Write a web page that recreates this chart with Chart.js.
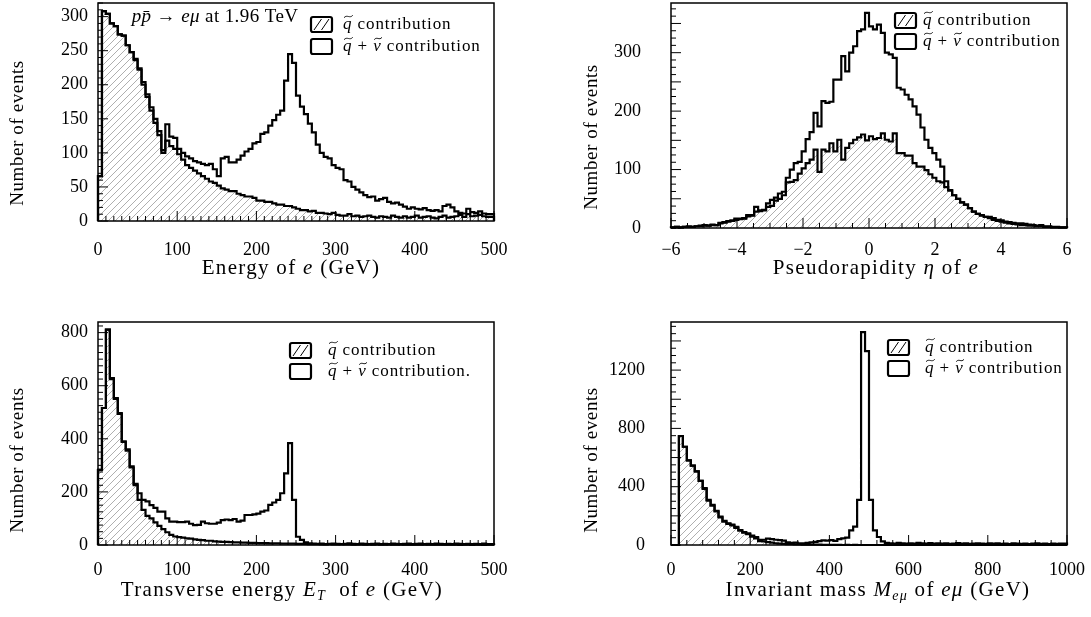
<!DOCTYPE html>
<html>
<head>
<meta charset="utf-8">
<title>e mu events</title>
<script src="https://cdn.jsdelivr.net/npm/chart.js@4.4.1/dist/chart.umd.min.js"></script>
<style>
  body { margin: 0; background: #fff; }
  canvas { position: absolute; }
</style>
</head>
<body>
<canvas id="energy" width="545" height="300" style="left:0;top:0"></canvas>
<canvas id="eta" width="546" height="300" style="left:545px;top:0"></canvas>
<canvas id="et" width="545" height="317" style="left:0;top:300px"></canvas>
<canvas id="mass" width="546" height="317" style="left:545px;top:300px"></canvas>
<script>
// events per bin (100 equal bins per histogram)
const energyRange = [0, 500];
const energyXLabels = [0, 100, 200, 300, 400, 500];
const energyYLabels = [0, 50, 100, 150, 200, 250, 300];
const energyTotal = [
  64, 66, 308, 304, 290, 286, 274, 272, 258, 248,
  238, 224, 204, 186, 167, 150, 132, 104, 142, 124,
  122, 106, 100, 95, 92, 88, 86, 84, 82, 84,
  76, 66, 92, 94, 86, 86, 90, 96, 102, 106,
  114, 116, 128, 130, 140, 148, 156, 162, 206, 245,
  232, 184, 168, 157, 143, 130, 112, 100, 94, 92,
  82, 78, 76, 60, 58, 50, 46, 42, 38, 35,
  36, 30, 32, 34, 28, 26, 27, 24, 21, 18,
  20, 18, 17, 19, 16, 15, 16, 14, 22, 24,
  20, 14, 12, 11, 18, 13, 12, 14, 11, 10];
const energySquark = [
  64, 66, 308, 304, 290, 286, 274, 272, 258, 248,
  236, 222, 200, 182, 162, 144, 126, 100, 118, 110,
  106, 98, 90, 82, 78, 74, 70, 66, 62, 58,
  56, 52, 48, 46, 44, 44, 40, 38, 36, 36,
  34, 30, 30, 28, 28, 26, 24, 24, 22, 22,
  20, 18, 16, 16, 14, 15, 12, 12, 11, 10,
  12, 9, 8, 8, 10, 7, 8, 6, 7, 8,
  6, 5, 7, 6, 5, 8, 6, 5, 7, 5,
  6, 8, 5, 6, 7, 5, 4, 6, 8, 5,
  6, 7, 9, 6, 10, 7, 8, 9, 7, 6];

const etaRange = [-6, 6];
const etaXLabels = [-6, -4, -2, 0, 2, 4, 6];
const etaYLabels = [0, 100, 200, 300];
const etaTotal = [
  1, 1, 2, 1, 2, 3, 2, 3, 4, 5,
  4, 6, 5, 9, 10, 12, 13, 16, 16, 17,
  22, 22, 36, 30, 31, 42, 48, 52, 59, 62,
  86, 100, 111, 113, 131, 152, 164, 197, 174, 217,
  214, 216, 254, 254, 294, 268, 300, 311, 337, 340,
  368, 345, 340, 348, 334, 300, 297, 291, 240, 237,
  228, 220, 208, 194, 172, 151, 137, 128, 117, 105,
  80, 65, 56, 50, 44, 40, 34, 28, 24, 22,
  19, 19, 17, 14, 13, 11, 10, 9, 8, 8,
  7, 6, 5, 4, 5, 3, 3, 2, 2, 1];
const etaSquark = [
  1, 1, 2, 1, 2, 2, 2, 3, 3, 4,
  4, 5, 5, 8, 9, 11, 12, 14, 15, 16,
  20, 21, 28, 29, 30, 36, 38, 47, 50, 56,
  78, 79, 82, 93, 102, 111, 117, 134, 96, 134,
  131, 145, 131, 151, 117, 137, 145, 151, 155, 160,
  150, 157, 152, 154, 162, 151, 148, 162, 128, 128,
  124, 124, 111, 105, 105, 99, 92, 86, 80, 78,
  70, 64, 56, 50, 44, 40, 34, 28, 24, 21,
  19, 17, 14, 12, 11, 9, 8, 7, 6, 5,
  5, 4, 4, 3, 3, 2, 2, 1, 1, 1];

const etRange = [0, 500];
const etXLabels = [0, 100, 200, 300, 400, 500];
const etYLabels = [0, 200, 400, 600, 800];
const etTotal = [
  94, 283, 516, 811, 629, 553, 497, 390, 360, 296,
  230, 195, 170, 164, 150, 140, 126, 126, 100, 88,
  88, 86, 86, 88, 80, 75, 76, 88, 82, 80,
  80, 84, 94, 96, 94, 98, 88, 92, 113, 113,
  115, 118, 126, 130, 151, 160, 170, 195, 270, 384,
  170, 31, 19, 10, 6, 5, 4, 5, 3, 4,
  5, 4, 3, 4, 6, 4, 3, 5, 4, 3,
  4, 5, 3, 4, 3, 5, 4, 3, 4, 5,
  3, 4, 5, 3, 4, 3, 5, 4, 3, 4,
  3, 5, 4, 3, 4, 3, 4, 3, 5, 3];
const etSquark = [
  94, 283, 516, 811, 625, 550, 494, 388, 355, 292,
  225, 170, 132, 110, 100, 85, 72, 60, 48, 38,
  32, 30, 28, 25, 24, 21, 19, 18, 16, 16,
  14, 13, 12, 12, 11, 10, 10, 9, 9, 8,
  8, 7, 7, 7, 6, 6, 6, 5, 5, 5,
  5, 4, 4, 4, 3, 3, 3, 2, 2, 3,
  2, 2, 3, 2, 2, 1, 2, 2, 1, 2,
  1, 2, 1, 1, 2, 1, 1, 2, 1, 1,
  1, 1, 1, 2, 1, 1, 1, 1, 1, 1,
  1, 1, 0, 1, 1, 0, 1, 1, 0, 1];

const massRange = [0, 1000];
const massXLabels = [0, 200, 400, 600, 800, 1000];
const massYLabels = [0, 400, 800, 1200];
const massTotal = [
  0, 0, 0, 748, 674, 580, 545, 505, 440, 390,
  309, 275, 235, 195, 165, 149, 140, 125, 103, 88,
  80, 65, 55, 36, 36, 44, 40, 36, 34, 30,
  18, 14, 16, 12, 12, 14, 18, 22, 26, 32,
  30, 34, 28, 40, 46, 50, 100, 126, 309, 1460,
  1330, 310, 100, 55, 25, 15, 12, 10, 14, 11,
  9, 12, 10, 14, 11, 9, 13, 10, 12, 9,
  11, 8, 10, 13, 9, 11, 8, 10, 12, 9,
  8, 11, 9, 12, 8, 10, 7, 11, 9, 8,
  10, 7, 9, 11, 8, 9, 7, 10, 8, 9];
const massSquark = [
  0, 0, 0, 748, 674, 580, 545, 505, 440, 385,
  305, 270, 230, 190, 160, 145, 135, 118, 98, 84,
  74, 58, 46, 26, 24, 20, 16, 12, 10, 8,
  6, 5, 4, 4, 3, 3, 2, 2, 2, 1,
  1, 1, 1, 1, 0, 1, 0, 1, 0, 0,
  0, 0, 0, 0, 0, 0, 0, 0, 0, 0,
  0, 0, 0, 0, 0, 0, 0, 0, 0, 0,
  0, 0, 0, 0, 0, 0, 0, 0, 0, 0,
  0, 0, 0, 0, 0, 0, 0, 0, 0, 0,
  0, 0, 0, 0, 0, 0, 0, 0, 0, 0];

const SERIF = "'Liberation Serif', serif";
Chart.defaults.font.family = SERIF;
Chart.defaults.color = '#000';

const squarkParts = [{ t: 'q', i: 1, tilde: 1 }, { t: ' contribution' }];
const totalParts = [{ t: 'q', i: 1, tilde: 1 }, { t: ' + ' }, { t: '\u03bd', i: 1, tilde: 1 }, { t: ' contribution' }];

// step outline of a histogram: rises from 0 at the first edge, drops to 0 at the last
function histPoints(range, values) {
  const w = (range[1] - range[0]) / values.length;
  const pts = [{ x: range[0], y: 0 }];
  values.forEach((v, i) => pts.push({ x: range[0] + i * w, y: v }));
  pts.push({ x: range[1], y: values[values.length - 1] });
  pts.push({ x: range[1], y: 0 });
  return pts;
}

function hatch(ctx) {
  const c = document.createElement('canvas');
  c.width = c.height = 7;
  const g = c.getContext('2d');
  g.strokeStyle = '#a6a6a6';
  g.lineWidth = 0.9;
  g.beginPath();
  g.moveTo(0, 7); g.lineTo(7, 0);
  g.moveTo(-1, 1); g.lineTo(1, -1);
  g.moveTo(6, 8); g.lineTo(8, 6);
  g.stroke();
  return ctx.createPattern(c, 'repeat');
}

// text made of roman / italic / subscript / wide-tilde pieces
function richText(ctx, parts, px, cy, size, spacing, align) {
  const font = p => (p.i ? 'italic ' : '') + Math.round(p.sub ? size * 0.68 : size) + 'px ' + SERIF;
  ctx.letterSpacing = spacing + 'px';
  let w = 0;
  parts.forEach(p => { ctx.font = font(p); w += ctx.measureText(p.t).width; });
  let x = align === 'left' ? px : px - w / 2;
  ctx.textAlign = 'left';
  ctx.textBaseline = 'middle';
  parts.forEach(p => {
    ctx.font = font(p);
    const pw = ctx.measureText(p.t).width;
    ctx.fillText(p.t, x, cy + (p.sub ? size * 0.32 : 0));
    if (p.tilde) {
      const x0 = x + 1, x1 = x + pw - 1 + size * 0.08, ty = cy - size * 0.5, amp = size * 0.07;
      ctx.lineWidth = 0.9;
      ctx.beginPath();
      ctx.moveTo(x0, ty + amp);
      ctx.bezierCurveTo(x0 + (x1 - x0) * 0.35, ty - amp * 2, x0 + (x1 - x0) * 0.65, ty + amp * 2, x1, ty - amp);
      ctx.stroke();
    }
    x += pw;
  });
  ctx.letterSpacing = '0px';
}

function eachStep(min, max, step, fn) {
  const k0 = Math.ceil(min / step - 1e-6), k1 = Math.floor(max / step + 1e-6);
  for (let k = k0; k <= k1; k++) fn(k * step);
}

function legendBox(ctx, x, y, w, h, hatched) {
  ctx.lineWidth = 2.2;
  ctx.beginPath();
  ctx.roundRect(x, y, w, h, 2);
  ctx.stroke();
  if (hatched) {
    ctx.lineWidth = 1;
    ctx.beginPath();
    ctx.moveTo(x + 3, y + h - 2); ctx.lineTo(x + w * 0.5, y + 2);
    ctx.moveTo(x + w * 0.5, y + h - 2); ctx.lineTo(x + w - 3, y + 2);
    ctx.stroke();
  }
}

const fmt = v => (v < 0 ? '\u2212' + Math.abs(v) : String(v));

const decor = {
  id: 'decor',
  afterDraw(chart, args, o) {
    const { ctx, chartArea: a, scales: { x, y } } = chart;
    ctx.save();
    ctx.strokeStyle = '#000';
    ctx.fillStyle = '#000';

    // inner tick marks on the bottom and left axes
    ctx.lineWidth = 1;
    ctx.beginPath();
    eachStep(x.min, x.max, o.xTicks[1], v => {
      const major = Math.abs(v / o.xTicks[0] - Math.round(v / o.xTicks[0])) < 1e-6;
      const px = x.getPixelForValue(v);
      ctx.moveTo(px, a.bottom); ctx.lineTo(px, a.bottom - (major ? 10 : 5));
    });
    eachStep(y.min, y.max, o.yTicks[1], v => {
      const major = Math.abs(v / o.yTicks[0] - Math.round(v / o.yTicks[0])) < 1e-6;
      const py = y.getPixelForValue(v);
      ctx.moveTo(a.left, py); ctx.lineTo(a.left + (major ? 10 : 5), py);
    });
    ctx.stroke();

    ctx.lineWidth = 1.5;
    ctx.strokeRect(a.left, a.top, a.right - a.left, a.bottom - a.top);

    // tick labels
    ctx.font = '18px ' + SERIF;
    ctx.textBaseline = 'middle';
    ctx.textAlign = 'center';
    o.xLabels.forEach(v => ctx.fillText(fmt(v), x.getPixelForValue(v), o.xLabelY));
    ctx.textAlign = 'right';
    o.yLabels.forEach(v => ctx.fillText(fmt(v), a.left - o.yLabelGap, y.getPixelForValue(v)));

    // axis titles
    richText(ctx, o.xTitle, o.xTitleAt[0], o.xTitleAt[1], 21, 1.3);
    ctx.save();
    ctx.translate(o.yTitleAt[0], o.yTitleAt[1]);
    ctx.rotate(-Math.PI / 2);
    richText(ctx, [{ t: 'Number of events' }], 0, 0, 19, 0.6);
    ctx.restore();

    // legend
    const [lx, ly, tx, gap] = o.legend;
    legendBox(ctx, lx, ly, 21, 15, true);
    legendBox(ctx, lx, ly + gap, 21, 15, false);
    richText(ctx, squarkParts, tx, ly + 8, 17, 0.9, 'left');
    richText(ctx, o.totalParts || totalParts, tx, ly + gap + 8, 17, 0.9, 'left');

    if (o.note) richText(ctx, o.note.parts, o.note.at[0], o.note.at[1], 19, 0.4);
    ctx.restore();
  }
};

function makeChart(id, p) {
  const ctx = document.getElementById(id).getContext('2d');
  const line = { borderColor: '#000', borderWidth: 2.2, stepped: 'after', pointRadius: 0,
                 borderJoinStyle: 'miter', clip: false };
  const axis = { grid: { display: false, drawTicks: false }, border: { display: false },
                 ticks: { display: false } };
  return new Chart(ctx, {
    type: 'line',
    data: {
      datasets: [
        Object.assign({ data: histPoints(p.range, p.total), fill: false }, line),
        Object.assign({ data: histPoints(p.range, p.squark), fill: 'origin',
                        backgroundColor: hatch(ctx) }, line)
      ]
    },
    options: {
      responsive: false,
      animation: false,
      events: [],
      layout: { padding: { left: 0, top: p.area[1], right: p.area[2], bottom: 0 } },
      scales: {
        x: Object.assign({ type: 'linear', min: p.range[0], max: p.range[1],
                           afterFit: s => { s.height = p.area[3]; } }, axis),
        y: Object.assign({ min: 0, max: p.yMax,
                           afterFit: s => { s.width = p.area[0]; } }, axis)
      },
      plugins: {
        legend: { display: false },
        tooltip: { enabled: false },
        decor: p.decor
      }
    },
    plugins: [decor]
  });
}

makeChart('energy', {
  range: energyRange, total: energyTotal, squark: energySquark,
  area: [98, 3, 51, 79], yMax: 320,
  decor: {
    xLabels: energyXLabels, yLabels: energyYLabels, xLabelY: 250, yLabelGap: 10,
    xTicks: [100, 10], yTicks: [50, 10],
    xTitle: [{ t: 'Energy of ' }, { t: 'e', i: 1 }, { t: ' (GeV)' }],
    xTitleAt: [291, 268], yTitleAt: [18, 133],
    legend: [311, 17, 343, 22],
    note: { at: [215, 17], parts: [{ t: 'pp\u0304', i: 1 }, { t: ' \u2192 ' }, { t: 'e\u03bc', i: 1 }, { t: ' at 1.96 TeV' }] }
  }
});

makeChart('eta', {
  range: etaRange, total: etaTotal, squark: etaSquark,
  area: [126, 3, 24, 72], yMax: 385,
  decor: {
    xLabels: etaXLabels, yLabels: etaYLabels, xLabelY: 250, yLabelGap: 30,
    xTicks: [2, 0.5], yTicks: [50, 12.5],
    xTitle: [{ t: 'Pseudorapidity ' }, { t: '\u03b7', i: 1 }, { t: ' of ' }, { t: 'e', i: 1 }],
    xTitleAt: [331, 268], yTitleAt: [47, 137],
    legend: [350, 13, 378, 21]
  }
});

makeChart('et', {
  range: etRange, total: etTotal, squark: etSquark,
  area: [98, 22, 51, 72], yMax: 840,
  decor: {
    xLabels: etXLabels, yLabels: etYLabels, xLabelY: 270, yLabelGap: 10,
    xTicks: [100, 10], yTicks: [200, 25],
    xTitle: [{ t: 'Transverse energy ' }, { t: 'E', i: 1 }, { t: 'T', i: 1, sub: 1 }, { t: '  of ' },
             { t: 'e', i: 1 }, { t: ' (GeV)' }],
    xTitleAt: [282, 290], yTitleAt: [18, 160],
    legend: [290, 43, 328, 21], totalParts: totalParts.concat([{ t: '.' }])
  }
});

makeChart('mass', {
  range: massRange, total: massTotal, squark: massSquark,
  area: [126, 22, 24, 72], yMax: 1530,
  decor: {
    xLabels: massXLabels, yLabels: massYLabels, xLabelY: 270, yLabelGap: 26,
    xTicks: [200, 40], yTicks: [200, 50],
    xTitle: [{ t: 'Invariant mass ' }, { t: 'M', i: 1 }, { t: 'e\u03bc', i: 1, sub: 1 }, { t: ' of ' },
             { t: 'e\u03bc', i: 1 }, { t: ' (GeV)' }],
    xTitleAt: [333, 290], yTitleAt: [47, 160],
    legend: [343, 40, 380, 21]
  }
});
</script>
</body>
</html>
